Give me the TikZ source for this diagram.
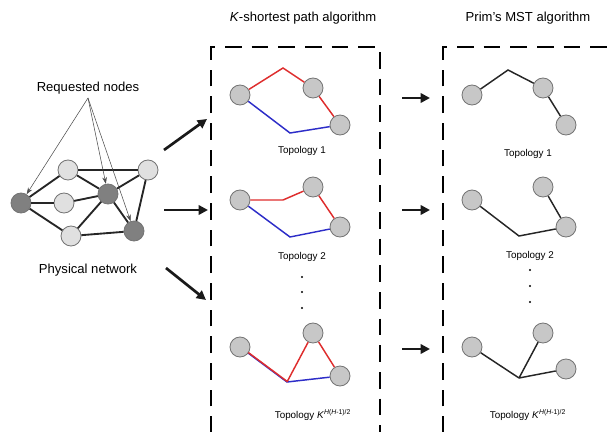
\documentclass[tikz,border=0pt]{standalone}
\usepackage{fontspec}
\setmainfont{Liberation Sans}
\usetikzlibrary{arrows.meta}
\definecolor{redl}{RGB}{222,45,45}
\definecolor{bluel}{RGB}{45,45,200}
\tikzset{
  pn/.style={circle, draw=black!55, line width=0.6pt, minimum size=15pt, inner sep=0pt},
  light/.style={pn, fill=black!12},
  dark/.style={pn, fill=black!50},
  tn/.style={circle, draw=black!55, fill=black!22, line width=0.6pt, minimum size=15pt, inner sep=0pt},
  net/.style={line width=1.4pt, draw=black!85},
  req/.style={line width=0.4pt, draw=black!70, -{Stealth[length=5pt,width=3.5pt]}},
  big/.style={line width=2pt, draw=black!90, -{Triangle[length=7pt,width=7pt]}},
  redp/.style={line width=1.1pt, draw=redl},
  bluep/.style={line width=1.1pt, draw=bluel},
  blackp/.style={line width=1.1pt, draw=black!85},
  boxd/.style={line width=2.2pt, dash pattern=on 12.5pt off 7.5pt},
  title/.style={font=\fontsize{9.8}{12}\selectfont},
  lab/.style={font=\fontsize{7.4}{9}\selectfont},
  dotn/.style={circle, fill=black, inner sep=0pt, minimum size=1.8pt},
}
\begin{document}
\begin{tikzpicture}[x=0.75pt, y=-0.75pt]
\useasboundingbox (0,0) rectangle (608,432);
\clip (0,0) rectangle (608,432);

% ---------- Physical network ----------
\node[dark]  (n1) at (21,203) {};
\node[light] (n2) at (68,170) {};
\node[light] (n3) at (64,203) {};
\node[dark]  (n4) at (108,194) {};
\node[light] (n5) at (148,170) {};
\node[light] (n6) at (71,236) {};
\node[dark]  (n7) at (134,231) {};
\draw[net] (n1) -- (n2);
\draw[net] (n1) -- (n3);
\draw[net] (n1) -- (n6);
\draw[net] (n2) -- (n5);
\draw[net] (n2) -- (n4);
\draw[net] (n3) -- (n4);
\draw[net] (n4) -- (n5);
\draw[net] (n4) -- (n6);
\draw[net] (n4) -- (n7);
\draw[net] (n5) -- (n7);
\draw[net] (n6) -- (n7);

\node[title] (reqlab) at (88,88) {Requested nodes};
\coordinate (reqtip) at (88,98);
\draw[req] (reqtip) -- (n1);
\draw[req] (reqtip) -- (n4);
\draw[req] (reqtip) -- (n7);
\node[title] (physlab) at (88,270) {Physical network};

% big arrows from network
\coordinate (a1s) at (164,150); \coordinate (a1e) at (207,119);
\coordinate (a2s) at (164,210); \coordinate (a2e) at (208,210);
\coordinate (a3s) at (166,268); \coordinate (a3e) at (206,300);
\draw[big] (a1s) -- (a1e);
\draw[big] (a2s) -- (a2e);
\draw[big] (a3s) -- (a3e);

% ---------- K-shortest box ----------
\node[title] (t1) at (303,18) {\textit{K}-shortest path algorithm};
\coordinate (b1a) at (211,433); \coordinate (b1b) at (211,47);
\coordinate (b1c) at (380,47);  \coordinate (b1d) at (380,433);
\draw[boxd] (b1a) -- (b1b) -- (b1c) -- (b1d) -- cycle;

% Topology 1
\node[tn] (k1a) at (240,95) {};
\node[tn] (k1b) at (313,88) {};
\node[tn] (k1c) at (340,125) {};
\coordinate (k1r) at (283,68);
\coordinate (k1u) at (290,133);
\draw[redp] (k1a) -- (k1r) -- (k1b) -- (k1c);
\draw[bluep] (k1a) -- (k1u) -- (k1c);
\node[lab] (k1l) at (302,151) {Topology 1};

% Topology 2
\node[tn] (k2a) at (240,200) {};
\node[tn] (k2b) at (313,187) {};
\node[tn] (k2c) at (340,227) {};
\coordinate (k2r) at (283,200);
\coordinate (k2u) at (290,237);
\draw[redp] (k2a) -- (k2r) -- (k2b) -- (k2c);
\draw[bluep] (k2a) -- (k2u) -- (k2c);
\node[lab] (k2l) at (302,257) {Topology 2};
\node[dotn] (kd1) at (302,277) {};
\node[dotn] (kd2) at (302,292) {};
\node[dotn] (kd3) at (302,308) {};

% Topology K
\node[tn] (k3a) at (240,347) {};
\node[tn] (k3b) at (313,333) {};
\node[tn] (k3c) at (340,376) {};
\coordinate (k3j) at (287,382);
\draw[bluep] (k3a) -- (k3j) -- (k3c);
\draw[redp, transform canvas={yshift=0.5pt}] (k3a) -- (k3j);
\draw[redp] (k3j) -- (k3b) -- (k3c);
\node[lab] (k3l) at (313,415) {Topology \textit{K}\textsuperscript{\textit{H}(\textit{H}-1)/2}};

% arrows between boxes
\coordinate (c1s) at (402,98);  \coordinate (c1e) at (430,98);
\coordinate (c2s) at (402,210); \coordinate (c2e) at (430,210);
\coordinate (c3s) at (402,349); \coordinate (c3e) at (430,349);
\draw[big] (c1s) -- (c1e);
\draw[big] (c2s) -- (c2e);
\draw[big] (c3s) -- (c3e);

% ---------- Prim's box ----------
\node[title] (t2) at (528,18) {Prim's MST algorithm};
\coordinate (b2a) at (443,433); \coordinate (b2b) at (443,47);
\coordinate (b2c) at (625,47);  \coordinate (b2d) at (625,433);
\draw[boxd] (b2a) -- (b2b) -- (b2c) -- (b2d) -- cycle;

% Topology 1
\node[tn] (p1a) at (472,95) {};
\node[tn] (p1b) at (543,88) {};
\node[tn] (p1c) at (566,125) {};
\coordinate (p1r) at (508,70);
\draw[blackp] (p1a) -- (p1r) -- (p1b) -- (p1c);
\node[lab] (p1l) at (528,154) {Topology 1};

% Topology 2
\node[tn] (p2a) at (472,200) {};
\node[tn] (p2b) at (543,187) {};
\node[tn] (p2c) at (566,227) {};
\coordinate (p2j) at (519,236);
\draw[blackp] (p2a) -- (p2j) -- (p2c);
\draw[blackp] (p2b) -- (p2c);
\node[lab] (p2l) at (530,256) {Topology 2};
\node[dotn] (pd1) at (530,270) {};
\node[dotn] (pd2) at (530,286) {};
\node[dotn] (pd3) at (530,302) {};

% Topology K
\node[tn] (p3a) at (472,347) {};
\node[tn] (p3b) at (543,333) {};
\node[tn] (p3c) at (566,369) {};
\coordinate (p3j) at (519,378);
\draw[blackp] (p3a) -- (p3j);
\draw[blackp] (p3j) -- (p3b);
\draw[blackp] (p3j) -- (p3c);
\node[lab] (p3l) at (528,415) {Topology \textit{K}\textsuperscript{\textit{H}(\textit{H}-1)/2}};
\end{tikzpicture}
\end{document}
